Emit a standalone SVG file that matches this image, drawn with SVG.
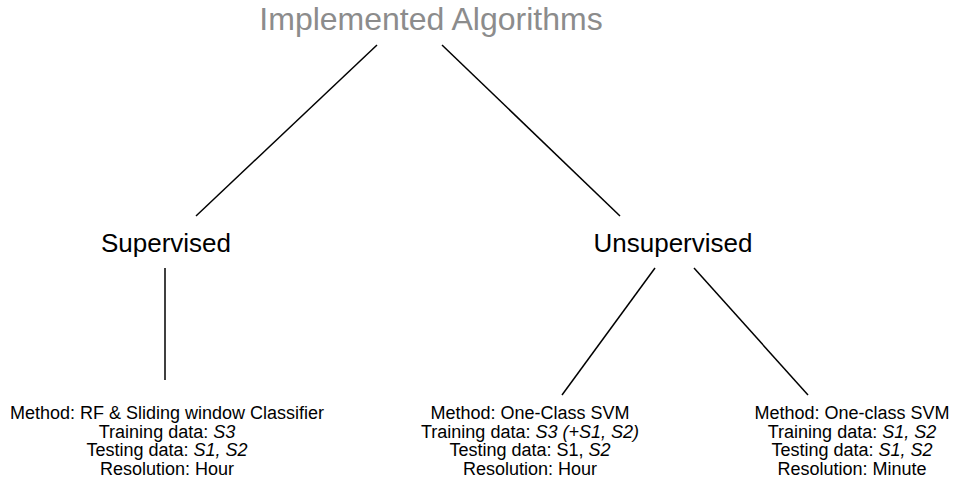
<svg xmlns="http://www.w3.org/2000/svg" width="957" height="490" viewBox="0 0 957 490">
  <style>
    text { font-family: "Liberation Sans", Arial, Helvetica, sans-serif; text-anchor: middle; fill: #000; }
    .title { font-size: 32px; fill: #8c8c8c; }
    .cat { font-size: 26px; }
    .info { font-size: 18px; }
    .it { font-style: italic; }
    .edge { stroke: #000; stroke-width: 1.5; fill: none; }
  </style>
  <rect width="957" height="490" fill="#fff"/>

  <g id="connectors">
    <line class="edge" x1="377" y1="45" x2="196" y2="216"/>
    <line class="edge" x1="442" y1="45" x2="620" y2="216"/>
    <line class="edge" x1="165" y1="268" x2="165" y2="380"/>
    <line class="edge" x1="655" y1="268" x2="562" y2="395"/>
    <line class="edge" x1="694" y1="268" x2="808" y2="395"/>
  </g>

  <g id="root">
    <text class="title" x="431" y="30">Implemented Algorithms</text>
  </g>

  <g id="supervised">
    <text class="cat" x="166" y="252">Supervised</text>
  </g>

  <g id="unsupervised">
    <text class="cat" x="673" y="252">Unsupervised</text>
  </g>

  <g id="rf-classifier">
    <text class="info" x="167" y="419">Method: RF &amp; Sliding window Classifier</text>
    <text class="info" x="167" y="437.5">Training data: <tspan class="it">S3</tspan></text>
    <text class="info" x="167" y="456">Testing data: <tspan class="it">S1, S2</tspan></text>
    <text class="info" x="167" y="474.5">Resolution: Hour</text>
  </g>

  <g id="ocsvm-hour">
    <text class="info" x="530" y="419">Method: One-Class SVM</text>
    <text class="info" x="530" y="437.5">Training data: <tspan class="it">S3 (+S1, S2)</tspan></text>
    <text class="info" x="530" y="456">Testing data: S1, <tspan class="it">S2</tspan></text>
    <text class="info" x="530" y="474.5">Resolution: Hour</text>
  </g>

  <g id="ocsvm-minute">
    <text class="info" x="852" y="419">Method: One-class SVM</text>
    <text class="info" x="852" y="437.5">Training data: <tspan class="it">S1, S2</tspan></text>
    <text class="info" x="852" y="456">Testing data: <tspan class="it">S1, S2</tspan></text>
    <text class="info" x="852" y="474.5">Resolution: Minute</text>
  </g>
</svg>
